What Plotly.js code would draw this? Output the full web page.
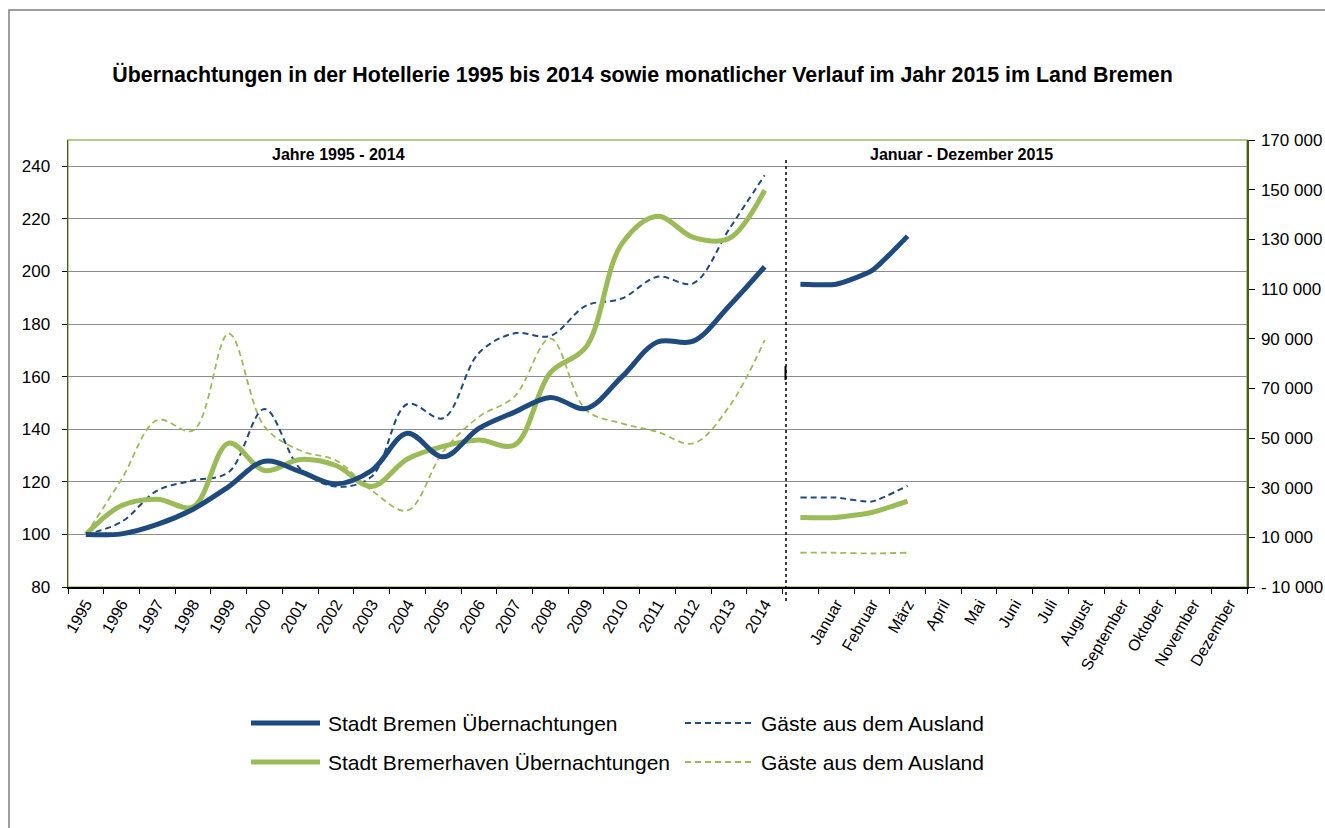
<!DOCTYPE html>
<html>
<head>
<meta charset="utf-8">
<script src="https://cdn.plot.ly/plotly-3.0.1.min.js"></script>
<style>html,body{margin:0;padding:0;background:#fff;}#chart{width:1325px;height:828px;}</style>
</head>
<body>
<div id="chart"></div>
<script>
// ---- data ----
const years = ["1995","1996","1997","1998","1999","2000","2001","2002","2003","2004",
               "2005","2006","2007","2008","2009","2010","2011","2012","2013","2014"];
const gapLabel = " ";
const months = ["Januar","Februar","März","April","Mai","Juni","Juli","August",
                "September","Oktober","November","Dezember"];

const bremenIndex = [100, 100.2, 103.8, 109.6, 118.2, 127.8, 123.9, 119.2, 124.3, 138.5,
                     129.5, 140.3, 146.5, 152.1, 147.9, 159.9, 173.2, 173.5, 186.8, 201.8];
const bremenAuslandIndex = [100, 104.8, 116.7, 120.5, 123.7, 147.7, 125, 118.2, 122, 149.6,
                     144.2, 169, 176.5, 175.5, 187, 189.7, 198, 195.5, 216, 236.6];
const bremerhavenIndex = [100, 111, 113.4, 110.5, 134.7, 124.3, 128.5, 126.2, 118.2, 128.7,
                     133.5, 135.9, 134, 161.5, 171.3, 210.5, 221, 213, 212.5, 230.9];
const bremerhavenAuslandIndex = [100, 121, 143.5, 139.5, 176.4, 141, 131.9, 128.1, 116.7, 109.1,
                     131.5, 144.7, 152.5, 174.5, 147.3, 142.2, 139, 134.6, 148.5, 173.9];

const monthX = [gapLabel, "Januar", "Februar", "März"];
const bremenMonat = [111900, 111900, 117400, 131300];
const bremenAuslandMonat = [26000, 26000, 24400, 30800];
const bremerhavenMonat = [18000, 18000, 20000, 24600];
const bremerhavenAuslandMonat = [3800, 3800, 3500, 3800];

const leftTicks = [80,100,120,140,160,180,200,220,240];
const rightTicks = [-10000,10000,30000,50000,70000,90000,110000,130000,150000,170000];
const rightTickText = ["- 10 000","10 000","30 000","50 000","70 000","90 000","110 000","130 000","150 000","170 000"];

const legendNames = ["Stadt Bremen Übernachtungen","Gäste aus dem Ausland",
                     "Stadt Bremerhaven Übernachtungen","Gäste aus dem Ausland"];

// ---- styles ----
const BLUE = "#1F4A7E";
const GREEN = "#9BBB59";
const FONT = "Liberation Sans, Arial, sans-serif";
const categories = years.concat([gapLabel]).concat(months);

function solid(x, y, color, yaxis){
  return {x:x, y:y, type:"scatter", mode:"lines", yaxis:yaxis, showlegend:false, hoverinfo:"skip",
          line:{color:color, width:5, shape:"spline", smoothing:yaxis==="y2"?0.5:1}};
}
function dashed(x, y, color, w, yaxis){
  return {x:x, y:y, type:"scatter", mode:"lines", yaxis:yaxis, showlegend:false, hoverinfo:"skip",
          line:{color:color, width:w, dash:"6px,4px", shape:"spline", smoothing:yaxis==="y2"?0.5:1}};
}

const traces = [
  dashed(years, bremerhavenAuslandIndex, GREEN, 1.8, "y"),
  dashed(years, bremenAuslandIndex, BLUE, 2, "y"),
  solid(years, bremerhavenIndex, GREEN, "y"),
  solid(years, bremenIndex, BLUE, "y"),
  dashed(monthX, bremerhavenAuslandMonat, GREEN, 1.8, "y2"),
  dashed(monthX, bremenAuslandMonat, BLUE, 2, "y2"),
  solid(monthX, bremerhavenMonat, GREEN, "y2"),
  solid(monthX, bremenMonat, BLUE, "y2")
];

// geometry helpers (paper coords) for decorations
const L = 68, R = 1247, T = 140, B = 587;
const px = v => (v - L) / (R - L);
const py = v => (B - v) / (B - T);

const shapes = [
  {type:"rect", xref:"paper", yref:"paper", x0:px(9), x1:px(1340), y0:py(10), y1:py(850),
   line:{color:"#7f7f7f", width:1.5}, fillcolor:"rgba(0,0,0,0)", layer:"below"},
  {type:"rect", xref:"paper", yref:"paper", x0:0, x1:1, y0:0, y1:1,
   line:{color:GREEN, width:1.5}, fillcolor:"rgba(0,0,0,0)", layer:"below"},
  {type:"line", xref:"paper", yref:"paper", x0:px(786), x1:px(786), y0:py(160), y1:py(603),
   line:{color:"#000", width:1.5, dash:"dot"}},
  {type:"line", xref:"paper", yref:"paper", x0:px(785.5), x1:px(785.5), y0:py(366), y1:py(380),
   line:{color:"#000", width:2}},
  {type:"line", xref:"paper", yref:"paper", x0:px(251), x1:px(320), y0:py(723), y1:py(723),
   line:{color:BLUE, width:5}},
  {type:"line", xref:"paper", yref:"paper", x0:px(685), x1:px(752), y0:py(723), y1:py(723),
   line:{color:BLUE, width:2, dash:"6px,4px"}},
  {type:"line", xref:"paper", yref:"paper", x0:px(251), x1:px(320), y0:py(762), y1:py(762),
   line:{color:GREEN, width:5}},
  {type:"line", xref:"paper", yref:"paper", x0:px(685), x1:px(752), y0:py(762), y1:py(762),
   line:{color:GREEN, width:2, dash:"6px,4px"}}
];

const annotations = [
  {xref:"paper", yref:"paper", x:px(338), y:py(154), text:"<b>Jahre 1995 - 2014</b>", showarrow:false,
   xanchor:"center", yanchor:"middle", font:{family:FONT, size:16, color:"#000"}},
  {xref:"paper", yref:"paper", x:px(961), y:py(155), text:"<b>Januar - Dezember 2015</b>", showarrow:false,
   xanchor:"center", yanchor:"middle", font:{family:FONT, size:16, color:"#000"}},
  {xref:"paper", yref:"paper", x:px(326), y:py(723), text:legendNames[0], showarrow:false,
   xanchor:"left", yanchor:"middle", font:{family:FONT, size:21, color:"#000"}},
  {xref:"paper", yref:"paper", x:px(759), y:py(723), text:legendNames[1], showarrow:false,
   xanchor:"left", yanchor:"middle", font:{family:FONT, size:21, color:"#000"}},
  {xref:"paper", yref:"paper", x:px(326), y:py(762), text:legendNames[2], showarrow:false,
   xanchor:"left", yanchor:"middle", font:{family:FONT, size:21, color:"#000"}},
  {xref:"paper", yref:"paper", x:px(759), y:py(762), text:legendNames[3], showarrow:false,
   xanchor:"left", yanchor:"middle", font:{family:FONT, size:21, color:"#000"}}
];

const layout = {
  width:1325, height:828,
  paper_bgcolor:"#fff", plot_bgcolor:"#fff",
  margin:{l:L, r:1325-R, t:T, b:828-B, pad:0},
  font:{family:FONT, color:"#000"},
  title:{text:"<b>Übernachtungen in der Hotellerie 1995 bis 2014 sowie monatlicher Verlauf im Jahr 2015 im Land Bremen</b>",
         x:642.5/1325, xanchor:"center", y:1-75/828, yanchor:"middle", font:{family:FONT, size:21.4, color:"#000"}},
  showlegend:false,
  xaxis:{type:"category", categoryorder:"array", categoryarray:categories,
         range:[-0.5, categories.length-0.5], tickmode:"linear", tick0:0, dtick:1,
         tickson:"boundaries", ticks:"outside", ticklen:5, tickcolor:"#000", tickwidth:1,
         tickangle:-60, tickfont:{family:FONT, size:16, color:"#000"},
         showline:true, linecolor:"#000", linewidth:1.5, showgrid:false, zeroline:false, fixedrange:true},
  yaxis:{range:[80,250], tickmode:"array", tickvals:leftTicks, ticks:"outside", ticklen:5,
         tickcolor:"#000", tickfont:{family:FONT, size:17, color:"#000"}, ticklabelstandoff:8,
         showline:true, linecolor:"#4a5a20", linewidth:1.5, showgrid:true, gridcolor:"#8c8c8c", gridwidth:1,
         zeroline:false, fixedrange:true},
  yaxis2:{range:[-10000,170000], overlaying:"y", side:"right", tickmode:"array",
          tickvals:rightTicks, ticktext:rightTickText, ticks:"outside", ticklen:6, tickcolor:"#000",
          tickfont:{family:FONT, size:17, color:"#000"}, ticklabelstandoff:3,
          showline:true, linecolor:"#4a5a20", linewidth:1.5, showgrid:false, zeroline:false, fixedrange:true},
  shapes:shapes,
  annotations:annotations
};

Plotly.newPlot("chart", traces, layout, {displayModeBar:false, staticPlot:true});
</script>
</body>
</html>
